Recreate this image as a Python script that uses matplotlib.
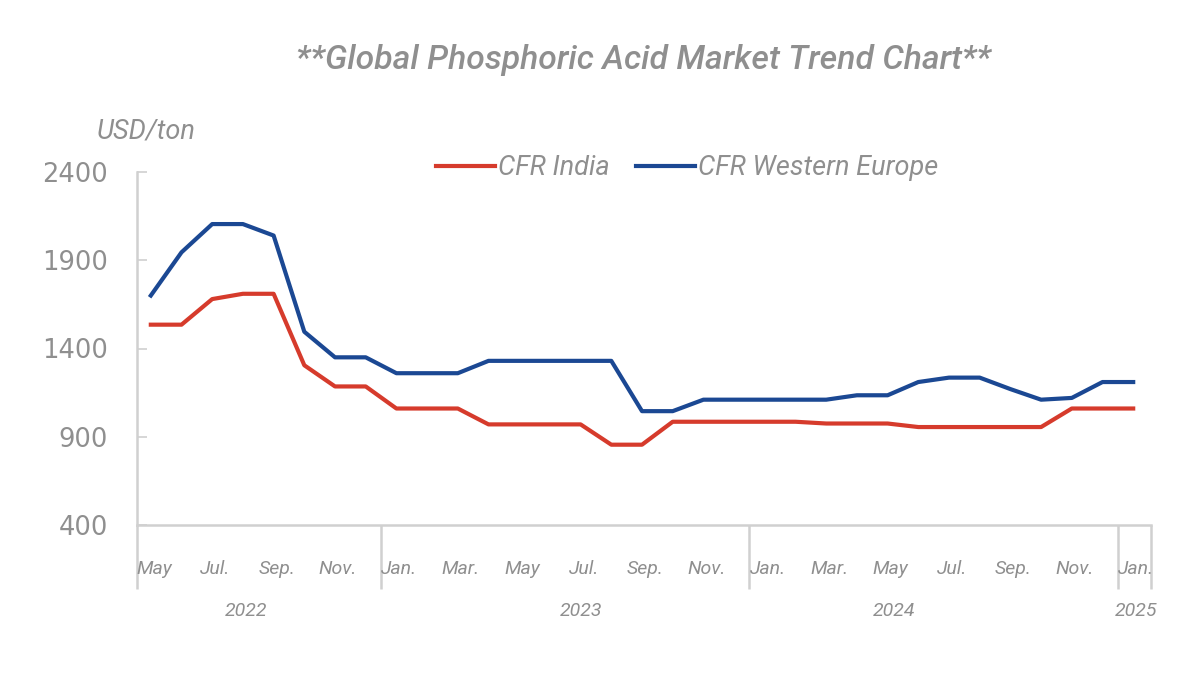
import numpy as np
import matplotlib.pyplot as plt
import matplotlib.transforms as mtransforms

# monthly prices, May 2022 .. Jan 2025 (USD/ton)
months = ["May", "Jun.", "Jul.", "Aug.", "Sep.", "Oct.", "Nov.", "Dec.",
          "Jan.", "Feb.", "Mar.", "Apr.", "May", "Jun.", "Jul.", "Aug.",
          "Sep.", "Oct.", "Nov.", "Dec.",
          "Jan.", "Feb.", "Mar.", "Apr.", "May", "Jun.", "Jul.", "Aug.",
          "Sep.", "Oct.", "Nov.", "Dec.", "Jan."]
cfr_india = [1535, 1535, 1680, 1710, 1710, 1305, 1185, 1185,
             1060, 1060, 1060, 970, 970, 970, 970, 855,
             855, 985, 985, 985,
             985, 985, 975, 975, 975, 955, 955, 955,
             955, 955, 1060, 1060, 1060]
cfr_west_europe = [1700, 1945, 2105, 2105, 2040, 1495, 1350, 1350,
                   1260, 1260, 1260, 1330, 1330, 1330, 1330, 1330,
                   1045, 1045, 1110, 1110,
                   1110, 1110, 1110, 1135, 1135, 1210, 1235, 1235,
                   1170, 1110, 1120, 1210, 1210]
years = ["2022", "2023", "2024", "2025"]
year_pos = [3.1, 14, 24.2, 32.1]
year_breaks = [7.5, 19.5, 31.5]

RED = "#d63b2c"
BLUE = "#1b4893"
GREY = "#8f8f8f"
SPINE = "#d0d0d0"

x = np.arange(len(months))

fig = plt.figure(figsize=(12, 6.75), dpi=100)
ax = fig.add_axes([137 / 1200, 1 - 525 / 675, (1151 - 137) / 1200, (525 - 172) / 675])

ax.plot(x, cfr_india, color=RED, lw=3, label="CFR India", solid_joinstyle="round")
ax.plot(x, cfr_west_europe, color=BLUE, lw=3, label="CFR Western Europe", solid_joinstyle="round")

ax.set_xlim(-0.45, 32.58)
ax.set_ylim(400, 2400)
ax.set_yticks([400, 900, 1400, 1900, 2400])
ax.tick_params(axis="y", direction="in", length=7, width=1.2, color=SPINE,
               labelsize=18.5, labelcolor=GREY, pad=21)
for lab in ax.get_yticklabels():
    lab.set_fontfamily("DejaVu Sans")
ax.set_xticks([])

for s in ["top", "right"]:
    ax.spines[s].set_visible(False)
for s in ["left", "bottom"]:
    ax.spines[s].set_color(SPINE)
    ax.spines[s].set_linewidth(1.8)

# vertical lines below the axis: left edge, year breaks, right edge
trans = mtransforms.blended_transform_factory(ax.transData, ax.transAxes)
drop = -64 / 353
for xv in [-0.45] + year_breaks + [32.58]:
    ax.plot([xv, xv], [0, drop], transform=trans, color=SPINE, lw=1.8,
            clip_on=False, solid_capstyle="butt")

# month labels every other month
for i in range(0, len(months), 2):
    ax.text(i + 0.1, -44 / 353, months[i], transform=trans, ha="center", va="center",
            fontsize=14, color=GREY, style="italic", family="Roboto")
for pos, yr in zip(year_pos, years):
    ax.text(pos, -86 / 353, yr, transform=trans, ha="center", va="center",
            fontsize=14, color=GREY, style="italic", family="Roboto")

fig.text(643 / 1200, 1 - 60 / 675, "**Global Phosphoric Acid Market Trend Chart**",
         ha="center", va="center", fontsize=24.3, color=GREY, style="italic",
         fontweight="medium", family="Roboto")
fig.text(146 / 1200, 1 - 132 / 675, "USD/ton", ha="center", va="center",
         fontsize=19.5, color=GREY, style="italic", family="Roboto")

leg = fig.legend(loc="center", bbox_to_anchor=(687 / 1200, 1 - 168 / 675), ncol=2,
                 frameon=False, handlelength=2.2, handletextpad=0.1,
                 columnspacing=0.95, prop={"family": "Roboto", "style": "italic", "size": 19.5})
for t in leg.get_texts():
    t.set_color(GREY)

fig.savefig("out.png", dpi=100)
